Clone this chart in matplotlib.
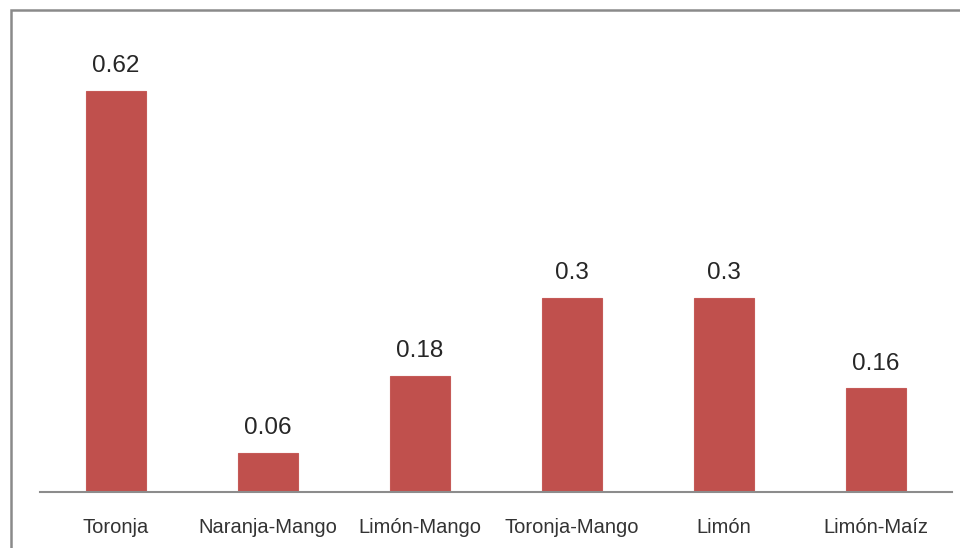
import matplotlib.pyplot as plt
from matplotlib.patches import Rectangle

# data
categories = ["Toronja", "Naranja-Mango", "Limón-Mango", "Toronja-Mango", "Limón", "Limón-Maíz"]
values = [0.62, 0.06, 0.18, 0.3, 0.3, 0.16]
value_labels = ["0.62", "0.06", "0.18", "0.3", "0.3", "0.16"]

plt.rcParams['font.family'] = ['Liberation Sans', 'DejaVu Sans']

fig = plt.figure(figsize=(9.6, 5.48), dpi=100)
ax = fig.add_axes([40 / 960, 56 / 548, 912 / 960, 482 / 548])

x = range(len(categories))
bars = ax.bar(x, values, width=0.4, color='#C0504D', edgecolor='#C55A57', linewidth=0.8)

for xi, v, lab in zip(x, values, value_labels):
    ax.annotate(lab, (xi, v), xytext=(0, 10), textcoords='offset points',
                ha='center', va='bottom', fontsize=17.5, color='#262626')

ax.set_xlim(-0.5, len(categories) - 0.5)
ax.set_ylim(0, 0.745)
ax.set_xticks(list(x))
ax.set_xticklabels(categories, fontsize=14.5, color='#333333')
ax.tick_params(axis='x', length=0, pad=19)
ax.set_yticks([])
for side in ['top', 'right', 'left']:
    ax.spines[side].set_visible(False)
ax.spines['bottom'].set_color('#8c8c8c')
ax.spines['bottom'].set_linewidth(1.5)

# outer chart frame, partly cut off by the image edges
frame = Rectangle((11 / 960, -0.2), 1.2, 1.2 - 10 / 548, transform=fig.transFigure,
                  fill=False, edgecolor='#8a8a8a', linewidth=1.8, clip_on=False)
fig.patches.append(frame)

fig.savefig('out.png', dpi=100)
